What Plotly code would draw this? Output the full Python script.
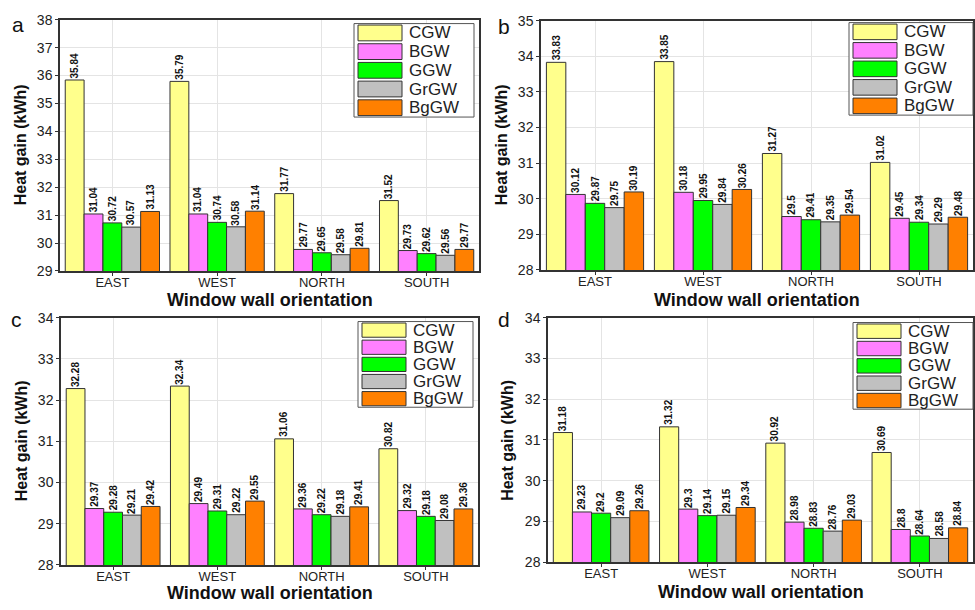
import plotly.graph_objects as go

categories = ["EAST", "WEST", "NORTH", "SOUTH"]
series_names = ["CGW", "BGW", "GGW", "GrGW", "BgGW"]
series_colors = ["#FFFF8C", "#FF80FF", "#00FF00", "#C0C0C0", "#FF8000"]

# panel a
a_CGW = [35.84, 35.79, 31.77, 31.52]
a_BGW = [31.04, 31.04, 29.77, 29.73]
a_GGW = [30.72, 30.74, 29.65, 29.62]
a_GrGW = [30.57, 30.58, 29.58, 29.56]
a_BgGW = [31.13, 31.14, 29.81, 29.77]
# panel b
b_CGW = [33.83, 33.85, 31.27, 31.02]
b_BGW = [30.12, 30.18, 29.5, 29.45]
b_GGW = [29.87, 29.95, 29.41, 29.34]
b_GrGW = [29.75, 29.84, 29.35, 29.29]
b_BgGW = [30.19, 30.26, 29.54, 29.48]
# panel c
c_CGW = [32.28, 32.34, 31.06, 30.82]
c_BGW = [29.37, 29.49, 29.36, 29.32]
c_GGW = [29.28, 29.31, 29.22, 29.18]
c_GrGW = [29.21, 29.22, 29.18, 29.08]
c_BgGW = [29.42, 29.55, 29.41, 29.36]
# panel d
d_CGW = [31.18, 31.32, 30.92, 30.69]
d_BGW = [29.23, 29.3, 28.98, 28.8]
d_GGW = [29.2, 29.14, 28.83, 28.64]
d_GrGW = [29.09, 29.15, 28.76, 28.58]
d_BgGW = [29.26, 29.34, 29.03, 28.84]

y_ranges = {"a": [29, 38], "b": [28, 35], "c": [28, 34], "d": [28, 34]}
panel_letters = ["a", "b", "c", "d"]
panel_data = {
    "a": [a_CGW, a_BGW, a_GGW, a_GrGW, a_BgGW],
    "b": [b_CGW, b_BGW, b_GGW, b_GrGW, b_BgGW],
    "c": [c_CGW, c_BGW, c_GGW, c_GrGW, c_BgGW],
    "d": [d_CGW, d_BGW, d_GGW, d_GrGW, d_BgGW],
}
x_title = "Window wall orientation"
y_title = "Heat gain (kWh)"

W, H = 975, 610
def px(x):
    return x / W
def py(y):
    return 1 - y / H

# plot areas in pixels: (left, right, top, bottom)
areas = {
    "a": (60, 479, 12, 270),
    "b": (541, 973, 13, 269),
    "c": (61, 478, 318, 572),
    "d": (548, 973, 318, 569),
}
xtitle_y = {"a": 300, "b": 300, "c": 601, "d": 600}
# legend boxes in pixels: (left, right, top, bottom)
leg_boxes = {
    "a": (354, 474, 16, 112),
    "b": (849, 973, 15, 110),
    "c": (358, 473, 322, 410),
    "d": (853, 973, 323, 412),
}
letter_pos = {"a": (18, 17), "b": (504, 19), "c": (16, 320), "d": (504, 320)}

BARGAP = 0.1
FONT = "Liberation Sans, Arial, sans-serif"
LABEL_SIZE = 10
fig = go.Figure()
shapes = []
annotations = []
nser = len(series_names)
bar_w = (1 - BARGAP) / nser

def label_half_px(txt):
    # approximate half length of a rotated bold label, plus a small gap
    digits = sum(c.isdigit() for c in txt)
    dots = txt.count(".")
    return (digits * 0.556 + dots * 0.278) * LABEL_SIZE / 2 + 2

for i, p in enumerate(panel_letters):
    n = "" if i == 0 else str(i + 1)
    xa, ya = "x" + n, "y" + n
    l, r, t, b = areas[p]
    y0r, y1r = y_ranges[p]
    units_per_px = (y1r - y0r) / (b - t)
    for s, name in enumerate(series_names):
        vals = panel_data[p][s]
        fig.add_trace(go.Bar(
            x=categories, y=vals, name=name, xaxis=xa, yaxis=ya,
            marker=dict(color=series_colors[s], line=dict(color="#333333", width=1)),
            showlegend=False, offsetgroup=name,
        ))
        # rotated value labels above each bar
        for j, v in enumerate(vals):
            txt = str(v)
            annotations.append(dict(
                x=j + (s - (nser - 1) / 2) * bar_w,
                y=v + label_half_px(txt) * units_per_px, xref=xa, yref=ya,
                text="<b>" + txt + "</b>", showarrow=False, textangle=-90,
                xanchor="center", yanchor="middle",
                font=dict(family=FONT, size=LABEL_SIZE, color="#111111")))
    axis_common = dict(showline=True, linecolor="#333333", linewidth=1.5, mirror=True,
                       showgrid=True, gridcolor="#E4E4E4", gridwidth=1, ticks="outside",
                       ticklen=3, tickcolor="#333333", zeroline=False)
    fig.layout["xaxis" + n] = dict(domain=[px(l), px(r)], anchor=ya, **axis_common,
                                   ticklabelstandoff=-4,
                                   tickfont=dict(family=FONT, size=13, color="#222222"))
    fig.layout["yaxis" + n] = dict(domain=[py(b), py(t)], anchor=xa, range=y_ranges[p], dtick=1,
                                   **axis_common, tickfont=dict(family=FONT, size=14, color="#222222"))
    # axis titles
    annotations.append(dict(x=px((l + r) / 2), y=py(xtitle_y[p]), xref="paper", yref="paper",
                            text="<b>" + x_title + "</b>", showarrow=False,
                            font=dict(family=FONT, size=18, color="#111111"),
                            xanchor="center", yanchor="middle"))
    annotations.append(dict(x=px(l - 40), y=py((t + b) / 2), xref="paper", yref="paper",
                            text="<b>" + y_title + "</b>", showarrow=False, textangle=-90,
                            font=dict(family=FONT, size=16, color="#111111"),
                            xanchor="center", yanchor="middle"))
    lx, ly = letter_pos[p]
    annotations.append(dict(x=px(lx), y=py(ly), xref="paper", yref="paper", text=p,
                            showarrow=False, xanchor="center", yanchor="middle",
                            font=dict(family=FONT, size=21, color="#111111")))
    # legend box
    bl, br, bt, bb = leg_boxes[p]
    shapes.append(dict(type="rect", xref="paper", yref="paper", x0=px(bl), x1=px(br),
                       y0=py(bb), y1=py(bt), line=dict(color="#555555", width=1), fillcolor="white"))
    rowh = (bb - bt) / nser
    for s, name in enumerate(series_names):
        ys0 = bt + s * rowh + 1.5
        ys1 = bt + (s + 1) * rowh - 1.5
        shapes.append(dict(type="rect", xref="paper", yref="paper", x0=px(bl + 4), x1=px(bl + 48),
                           y0=py(ys1), y1=py(ys0), line=dict(color="#333333", width=1),
                           fillcolor=series_colors[s]))
        annotations.append(dict(x=px(bl + 53), y=py((ys0 + ys1) / 2), xref="paper", yref="paper",
                                text=name, showarrow=False, xanchor="left", yanchor="middle",
                                font=dict(family=FONT, size=17, color="#222222")))

fig.update_layout(
    width=W, height=H, margin=dict(l=0, r=0, t=0, b=0),
    barmode="group", bargap=BARGAP, bargroupgap=0,
    plot_bgcolor="white", paper_bgcolor="white",
    font=dict(family=FONT, color="#222222"),
    shapes=shapes, annotations=annotations,
)
fig.write_html("out.html")
